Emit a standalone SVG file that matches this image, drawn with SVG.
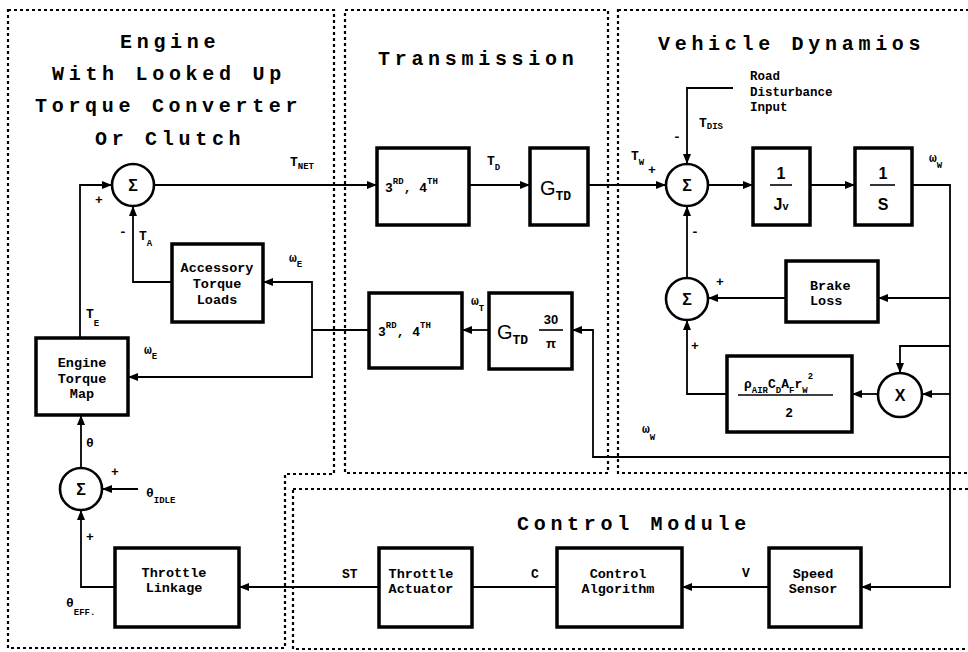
<svg xmlns="http://www.w3.org/2000/svg" width="968" height="652" viewBox="0 0 968 652">
<defs>
<style>
.frame{fill:none;stroke:#000;stroke-width:2.2;stroke-dasharray:3 3}
.box{fill:#fff;stroke:#000;stroke-width:3.5}
.sum{fill:#fff;stroke:#000;stroke-width:2.6}
.wire{fill:none;stroke:#000;stroke-width:1.8}
.arr{marker-end:url(#ah)}
.title{font-family:"Liberation Mono",monospace;font-weight:bold;font-size:20px;letter-spacing:4.7px}
.bt{font-family:"Liberation Mono",monospace;font-weight:bold;font-size:13.5px;text-anchor:middle}
.lbl{font-family:"Liberation Mono",monospace;font-weight:bold;font-size:13px}
.sub{font-size:9px}
.m{font-family:"Liberation Sans",Arial,sans-serif;font-weight:bold;text-anchor:middle}
.small{font-family:"Liberation Mono",monospace;font-weight:bold;font-size:12.5px}
</style>
<marker id="ah" viewBox="0 0 10 8" refX="10" refY="4" markerWidth="10" markerHeight="8" markerUnits="userSpaceOnUse" orient="auto">
<path d="M0,0 L10,4 L0,8 Z" fill="#000"/>
</marker>
</defs>
<rect width="968" height="652" fill="#fff"/>

<g id="frames">
<path class="frame" d="M8,10 H334 V474 H285 V648 H8 Z"/>
<path class="frame" d="M345,10 H608 V473 H345 Z"/>
<path class="frame" d="M618,10 H975 V473 H618 Z"/>
<path class="frame" d="M293,489 H975 V649 H293 Z"/>
</g>

<g id="titles">
<text class="title" x="120" y="48">Engine</text>
<text class="title" x="52" y="80">With Looked Up</text>
<text class="title" x="35" y="112">Torque Converter</text>
<text class="title" x="95" y="145">Or Clutch</text>
<text class="title" x="378" y="65">Transmission</text>
<text class="title" x="658" y="50">Vehicle Dynamios</text>
<text class="title" x="517" y="530">Control Module</text>
</g>

<g id="connectors">
<path class="wire arr" d="M154,185 H377"/>
<path class="wire arr" d="M469,185 H530"/>
<path class="wire arr" d="M588,185 H666"/>
<path class="wire arr" d="M708,185 H753"/>
<path class="wire arr" d="M810,185 H855"/>
<path class="wire arr" d="M912,185 H950 V587 H861"/>
<path class="wire arr" d="M950,298 H878"/>
<path class="wire arr" d="M786,298 H708"/>
<path class="wire arr" d="M687,277 V206"/>
<path class="wire arr" d="M727,394 H687 V320"/>
<path class="wire arr" d="M950,394 H922"/>
<path class="wire arr" d="M950,346 H900 V373"/>
<path class="wire arr" d="M878,394 H852"/>
<path class="wire arr" d="M733,88 H687 V164"/>
<path class="wire arr" d="M950,457 H593 V330 H572"/>
<path class="wire arr" d="M489,330 H462"/>
<path class="wire" d="M369,330 H312"/>
<path class="wire arr" d="M312,330 V282 H263"/>
<path class="wire arr" d="M312,330 V377 H128"/>
<path class="wire arr" d="M172,282 H133 V206"/>
<path class="wire arr" d="M80,338 V185 H112"/>
<path class="wire arr" d="M81,468 V415"/>
<path class="wire arr" d="M138,489 H102"/>
<path class="wire arr" d="M115,587 H81 V510"/>
<path class="wire arr" d="M379,587 H239"/>
<path class="wire" d="M557,587 H472"/>
<path class="wire arr" d="M769,587 H682"/>
</g>

<g id="sum1"><circle class="sum" cx="133" cy="185" r="21"/><text class="m" x="133" y="191" font-size="16">Σ</text></g>
<g id="sum2"><circle class="sum" cx="81" cy="489" r="21"/><text class="m" x="81" y="495" font-size="16">Σ</text></g>
<g id="sum3"><circle class="sum" cx="687" cy="185" r="21"/><text class="m" x="687" y="191" font-size="16">Σ</text></g>
<g id="sum4"><circle class="sum" cx="687" cy="299" r="21"/><text class="m" x="687" y="305" font-size="16">Σ</text></g>
<g id="mult"><circle class="sum" cx="900" cy="395" r="22"/><text class="m" x="900" y="401" font-size="16">X</text></g>

<g id="accessory"><rect class="box" x="172" y="244" width="91" height="78"/>
<text class="bt" x="217" y="272">Accessory</text><text class="bt" x="217" y="288">Torque</text><text class="bt" x="217" y="304">Loads</text></g>
<g id="torquemap"><rect class="box" x="36" y="338" width="92" height="77"/>
<text class="bt" x="82" y="367">Engine</text><text class="bt" x="82" y="383">Torque</text><text class="bt" x="82" y="398">Map</text></g>
<g id="linkage"><rect class="box" x="115" y="548" width="124" height="79"/>
<text class="bt" x="174" y="577">Throttle</text><text class="bt" x="174" y="592">Linkage</text></g>
<g id="gear1"><rect class="box" x="377" y="148" width="92" height="77"/>
<text class="lbl" x="385" y="192" font-size="14">3<tspan class="sub" dy="-8">RD</tspan><tspan dy="8">, 4</tspan><tspan class="sub" dy="-8">TH</tspan></text></g>
<g id="gtd1"><rect class="box" x="530" y="148" width="58" height="77"/>
<text x="540" y="195" font-family="Liberation Sans,Arial,sans-serif" font-size="20">G<tspan class="lbl" font-size="9" dy="5">TD</tspan></text></g>
<g id="gear2"><rect class="box" x="369" y="293" width="93" height="75"/>
<text class="lbl" x="378" y="336" font-size="14">3<tspan class="sub" dy="-8">RD</tspan><tspan dy="8">, 4</tspan><tspan class="sub" dy="-8">TH</tspan></text></g>
<g id="gtd2"><rect class="box" x="489" y="293" width="83" height="76"/>
<text x="497" y="339" font-family="Liberation Sans,Arial,sans-serif" font-size="20">G<tspan class="lbl" font-size="9" dy="5">TD</tspan></text>
<text class="m" x="551" y="324" font-size="13">30</text><line x1="539" y1="330" x2="563" y2="330" stroke="#000" stroke-width="1.6"/><text class="m" x="551" y="348" font-size="13">π</text></g>
<g id="inertia"><rect class="box" x="753" y="148" width="57" height="77"/>
<text class="m" x="781" y="179" font-size="16">1</text><line x1="770" y1="185" x2="792" y2="185" stroke="#000" stroke-width="1.6"/><text class="m" x="781" y="210" font-size="16">J<tspan font-size="11">v</tspan></text></g>
<g id="integrator"><rect class="box" x="855" y="148" width="57" height="77"/>
<text class="m" x="883" y="179" font-size="16">1</text><line x1="870" y1="185" x2="895" y2="185" stroke="#000" stroke-width="1.6"/><text class="m" x="883" y="210" font-size="16">S</text></g>
<g id="brake"><rect class="box" x="786" y="261" width="92" height="61"/>
<text class="bt" x="810" y="290" text-anchor="start" style="text-anchor:start">Brake</text><text class="bt" x="810" y="305" style="text-anchor:start">Loss</text></g>
<g id="aero"><rect class="box" x="727" y="356" width="125" height="76"/>
<text class="lbl" x="744" y="388" font-size="13">ρ<tspan class="sub" dy="5">AIR</tspan><tspan dy="-5">C</tspan><tspan class="sub" dy="5">D</tspan><tspan dy="-5">A</tspan><tspan class="sub" dy="5">F</tspan><tspan dy="-5">r</tspan><tspan class="sub" dy="5">W</tspan><tspan class="sub" dy="-14">2</tspan></text>
<line x1="738" y1="395" x2="833" y2="395" stroke="#000" stroke-width="1.6"/>
<text class="m" x="789" y="417" font-size="13">2</text></g>
<g id="actuator"><rect class="box" x="379" y="548" width="93" height="79"/>
<text class="bt" x="421" y="578">Throttle</text><text class="bt" x="421" y="593">Actuator</text></g>
<g id="algorithm"><rect class="box" x="557" y="548" width="125" height="79"/>
<text class="bt" x="618" y="578">Control</text><text class="bt" x="618" y="593">Algorithm</text></g>
<g id="sensor"><rect class="box" x="769" y="548" width="92" height="79"/>
<text class="bt" x="813" y="578">Speed</text><text class="bt" x="813" y="593">Sensor</text></g>

<g id="labels">
<text class="lbl" x="290" y="166">T<tspan class="sub" dy="3">NET</tspan></text>
<text class="lbl" x="95" y="204">+</text>
<text class="lbl" x="119" y="236">-</text>
<text class="lbl" x="139" y="240">T<tspan class="sub" dy="6">A</tspan></text>
<text class="lbl" x="289" y="262">ω<tspan class="sub" dy="5">E</tspan></text>
<text class="lbl" x="144" y="354">ω<tspan class="sub" dy="5">E</tspan></text>
<text class="lbl" x="86" y="318">T<tspan class="sub" dy="8">E</tspan></text>
<text class="lbl" x="86" y="447">θ</text>
<text class="lbl" x="111" y="476">+</text>
<text class="lbl" x="146" y="497">θ<tspan class="sub" dy="6">IDLE</tspan></text>
<text class="lbl" x="86" y="541">+</text>
<text class="lbl" x="66" y="607">θ<tspan class="sub" dy="8">EFF.</tspan></text>
<text class="lbl" x="342" y="578">ST</text>
<text class="lbl" x="531" y="578">C</text>
<text class="lbl" x="742" y="577">V</text>
<text class="lbl" x="487" y="165">T<tspan class="sub" dy="5">D</tspan></text>
<text class="lbl" x="631" y="160">T<tspan class="sub" dy="5">W</tspan></text>
<text class="lbl" x="648" y="174" font-size="10">+</text>
<text class="lbl" x="699" y="127">T<tspan class="sub" dy="2">DIS</tspan></text>
<text class="lbl" x="673" y="141">-</text>
<text class="lbl" x="929" y="162">ω<tspan class="sub" dy="6">W</tspan></text>
<text class="lbl" x="691" y="236">-</text>
<text class="lbl" x="716" y="286" font-size="10">+</text>
<text class="lbl" x="691" y="350" font-size="10">+</text>
<text class="lbl" x="642" y="433">ω<tspan class="sub" dy="7">W</tspan></text>
<text class="lbl" x="471" y="305">ω<tspan class="sub" dy="6">T</tspan></text>
<text class="small" x="750" y="80">Road</text>
<text class="small" x="750" y="96">Disturbance</text>
<text class="small" x="750" y="111">Input</text>
</g>
</svg>
